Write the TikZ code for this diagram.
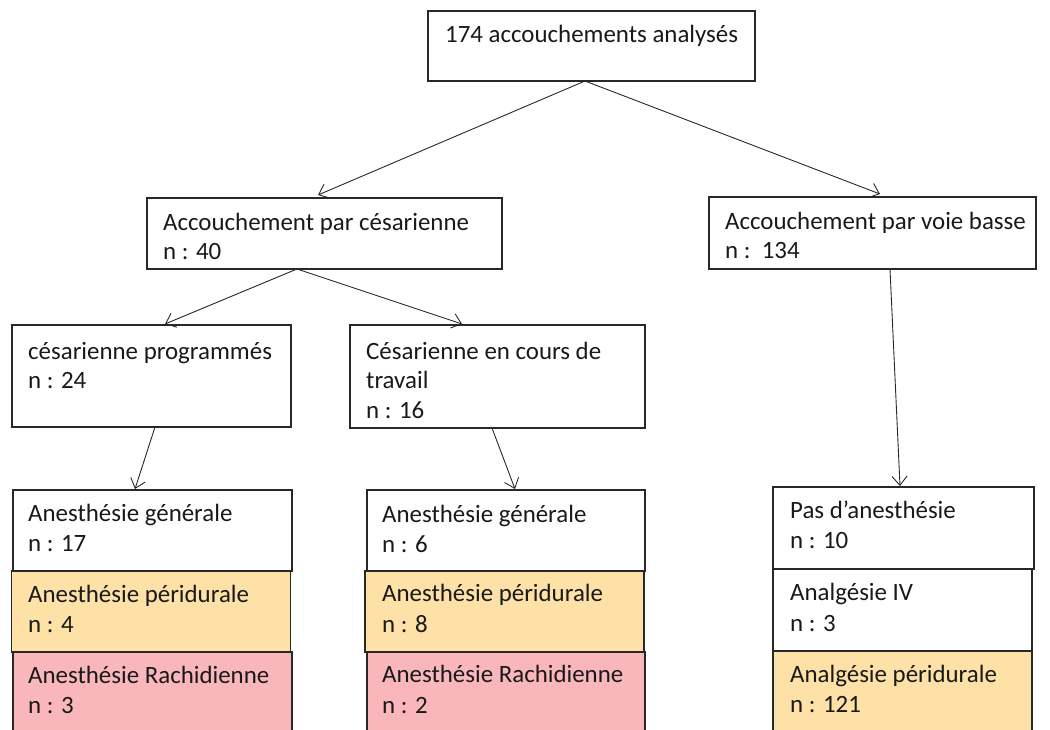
\documentclass[tikz,border=0pt]{standalone}
\usepackage{fontspec}
\setmainfont{Carlito}
\usetikzlibrary{arrows.meta}
\definecolor{peach}{RGB}{253,225,166}
\definecolor{pinkbox}{RGB}{249,183,188}
\definecolor{edge}{RGB}{40,40,40}
\tikzset{
  box/.style={draw=edge, line width=1.1pt, rectangle, anchor=north west, inner sep=0pt, outer sep=0pt},
  txt/.style={anchor=base west, inner sep=0pt, text=black!90, font=\fontsize{24.9}{29}\selectfont},
  arr/.style={draw=edge, line width=0.9pt, -{Straight Barb[length=9pt,width=15pt,line width=0.9pt]}}
}
\begin{document}
\begin{tikzpicture}[x=1pt,y=-1pt]
\clip (0,0) rectangle (1050,729);
% top
\node[box, minimum width=327, minimum height=70] (top) at (428,11) {};
\node[txt] (ttop) at (445,42) {174 accouchements analysés};
% level 2
\node[box, minimum width=355, minimum height=71] (ces) at (147,198) {};
\node[txt] (tces1) at (163,230) {Accouchement par césarienne};
\node[txt] (tces2) at (163,259) {n : 40};
\node[box, minimum width=327, minimum height=72] (vb) at (709,197) {};
\node[txt] (tvb1) at (725,229) {Accouchement par voie basse};
\node[txt] (tvb2) at (725,258) {n :\ \ 134};
% level 3
\node[box, minimum width=279, minimum height=102] (prog) at (12,325) {};
\node[txt] (tprog1) at (28,359) {césarienne programmés};
\node[txt] (tprog2) at (28,388) {n : 24};
\node[box, minimum width=295, minimum height=103] (enc) at (350,325) {};
\node[txt] (tenc1) at (366,359) {Césarienne en cours de};
\node[txt] (tenc2) at (366,388) {travail};
\node[txt] (tenc3) at (366,418) {n : 16};
% bottom left
\node[box, fill=white, minimum width=279, minimum height=81] (blg) at (13,490) {};
\node[box, fill=peach, minimum width=279, minimum height=81] (blp) at (11.5,571) {};
\node[box, fill=pinkbox, minimum width=279, minimum height=90] (blr) at (13,652) {};
\node[txt] at (28,521) {Anesthésie générale};
\node[txt] at (28,551) {n : 17};
\node[txt] at (28,602) {Anesthésie péridurale};
\node[txt] at (28,632) {n : 4};
\node[txt] at (28,683) {Anesthésie Rachidienne};
\node[txt] at (28,713) {n : 3};
% bottom middle
\node[box, fill=white, minimum width=278, minimum height=81] (bmg) at (367,490) {};
\node[box, fill=peach, minimum width=279, minimum height=81] (bmp) at (365,571) {};
\node[box, fill=pinkbox, minimum width=278, minimum height=90] (bmr) at (367,652) {};
\node[txt] at (382,522) {Anesthésie générale};
\node[txt] at (382,552) {n : 6};
\node[txt] at (382,601) {Anesthésie péridurale};
\node[txt] at (382,632) {n : 8};
\node[txt] at (382,682) {Anesthésie Rachidienne};
\node[txt] at (382,713) {n : 2};
% bottom right
\node[box, fill=white, minimum width=261, minimum height=82] (brn) at (773,487) {};
\node[box, fill=white, minimum width=259, minimum height=82] (bri) at (773,569) {};
\node[box, fill=peach, minimum width=259, minimum height=90] (brp) at (773,651) {};
\node[txt] at (790,518) {Pas d’anesthésie};
\node[txt] at (790,548) {n : 10};
\node[txt] at (790,600) {Analgésie IV};
\node[txt] at (790,631) {n : 3};
\node[txt] at (790,682) {Analgésie péridurale};
\node[txt] at (790,712) {n : 121};
% arrows
\draw[arr] ([xshift=-6.5pt]top.south) -- ([xshift=-6.5pt,yshift=3pt]ces.north);
\draw[arr] ([xshift=-6.5pt]top.south) -- ([xshift=7.5pt,yshift=3pt]vb.north);
\draw[arr] ([xshift=-27.5pt]ces.south) -- ([xshift=13.5pt,yshift=1pt]prog.north);
\draw[arr] ([xshift=-27.5pt]ces.south) -- ([xshift=-35.5pt,yshift=1pt]enc.north);
\draw[arr] ([xshift=3.5pt]prog.south) -- ([xshift=-17.5pt,yshift=1pt]blg.north);
\draw[arr] ([xshift=-5.5pt]enc.south) -- ([xshift=9pt,yshift=1pt]bmg.north);
\draw[arr] ([xshift=17.5pt]vb.south) -- ([xshift=-3.5pt,yshift=1pt]brn.north);
\end{tikzpicture}
\end{document}
